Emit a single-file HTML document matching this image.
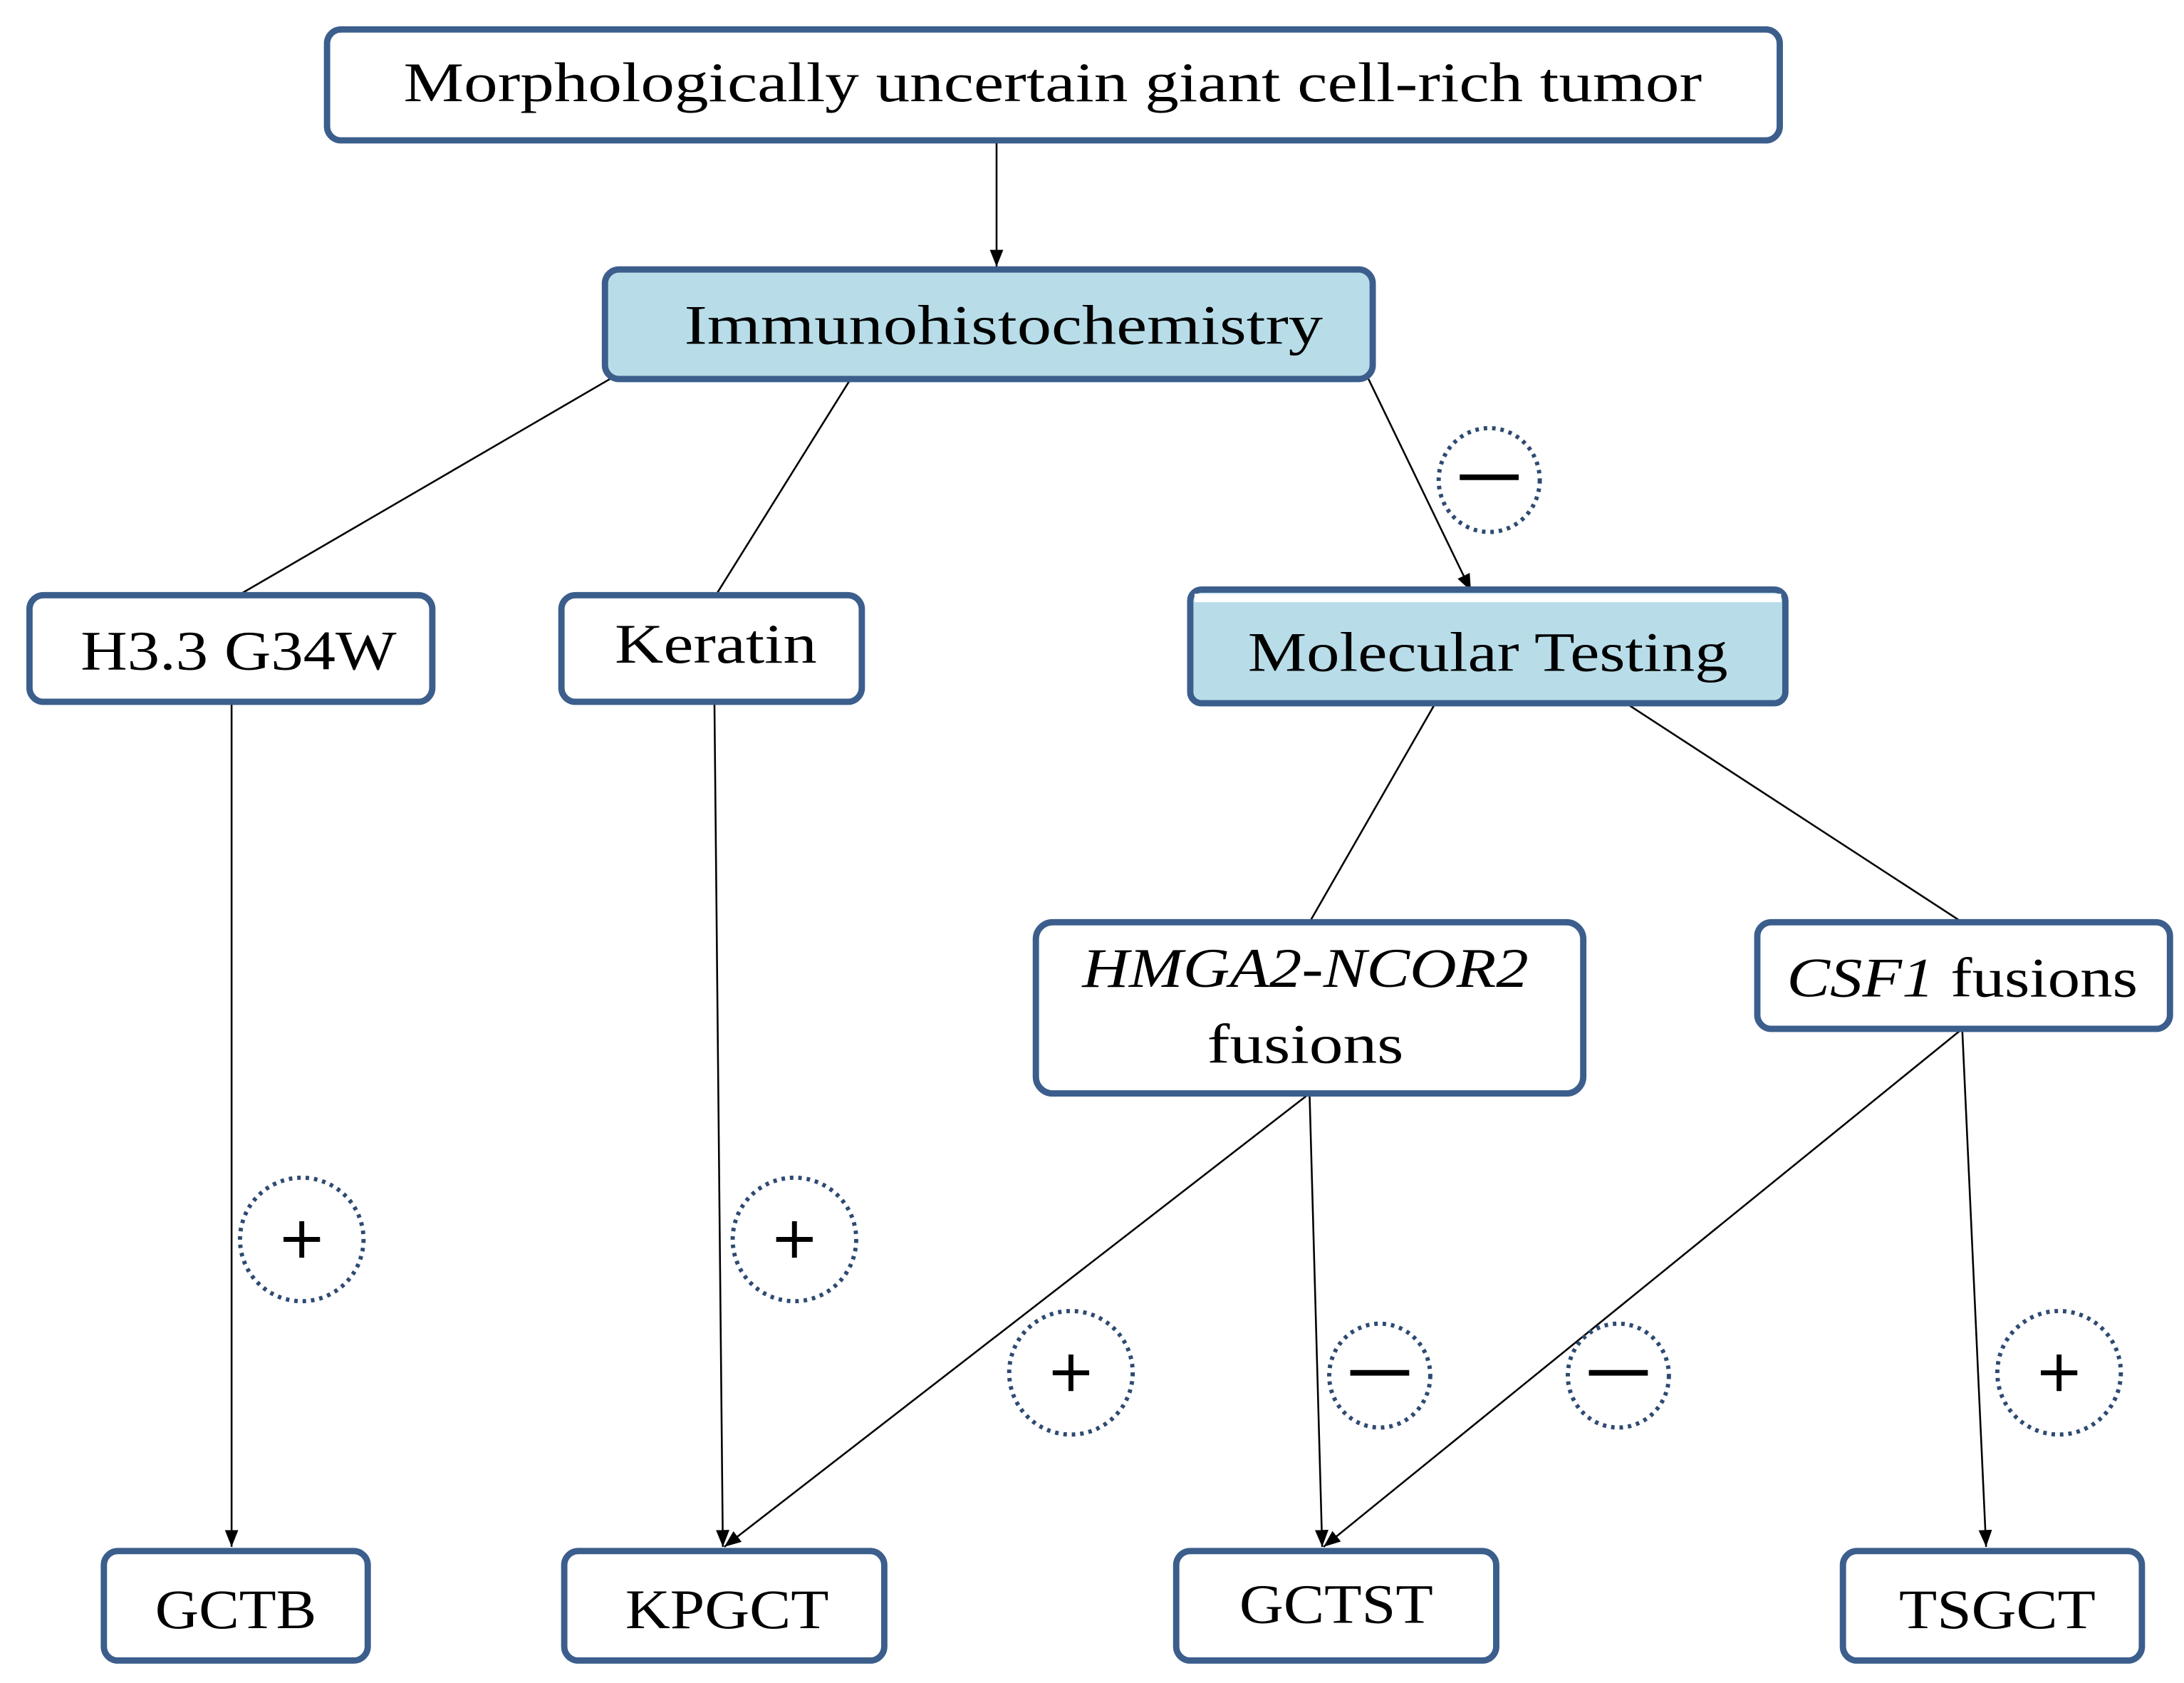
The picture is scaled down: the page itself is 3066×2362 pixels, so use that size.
<!DOCTYPE html>
<html><head><meta charset="utf-8"><style>
html,body{margin:0;padding:0;background:#fff;}
svg{display:block;}
text{font-family:"Liberation Serif",serif;fill:#000;}
</style></head><body>
<svg width="3066" height="2362" viewBox="0 0 1556 1199" preserveAspectRatio="none" xmlns="http://www.w3.org/2000/svg">
<defs>
<marker id="a" viewBox="0 0 10 10" refX="10" refY="5" markerWidth="12" markerHeight="12" orient="auto" markerUnits="userSpaceOnUse"><path d="M0,1 L10,5 L0,9 z" fill="#000"/></marker>
</defs>
<g stroke="#000" stroke-width="1.3" fill="none">
<line x1="710" y1="100" x2="710" y2="190" marker-end="url(#a)"/>
<line x1="438" y1="268" x2="170" y2="424"/>
<line x1="606" y1="270" x2="510" y2="424"/>
<line x1="975" y1="270" x2="1048" y2="421" marker-end="url(#a)"/>
<line x1="1022" y1="502" x2="933" y2="657"/>
<line x1="1160" y1="502" x2="1398" y2="657"/>
<line x1="165" y1="500" x2="165" y2="1102" marker-end="url(#a)"/>
<line x1="509" y1="500" x2="515" y2="1102" marker-end="url(#a)"/>
<line x1="933" y1="779" x2="516" y2="1102" marker-end="url(#a)"/>
<line x1="933" y1="779" x2="942" y2="1102" marker-end="url(#a)"/>
<line x1="1398" y1="733" x2="943" y2="1102" marker-end="url(#a)"/>
<line x1="1398" y1="733" x2="1415" y2="1102" marker-end="url(#a)"/>
</g>
<g stroke="#3b5e8c" stroke-width="4.5">
<rect x="233" y="21" width="1035" height="79" rx="10" fill="#fff"/>
<rect x="431" y="192" width="547" height="78" rx="10" fill="#b8dde8"/>
<rect x="21" y="424" width="287" height="76" rx="10" fill="#fff"/>
<rect x="400" y="424" width="214" height="76" rx="10" fill="#fff"/>
<rect x="848" y="420" width="424" height="81" rx="8" fill="#b8dde8"/>
<rect x="738" y="657" width="390" height="122" rx="12" fill="#fff"/>
<rect x="1252" y="657" width="294" height="76" rx="10" fill="#fff"/>
<rect x="74" y="1105" width="188" height="78" rx="10" fill="#fff"/>
<rect x="402" y="1105" width="228" height="78" rx="10" fill="#fff"/>
<rect x="838" y="1105" width="228" height="78" rx="10" fill="#fff"/>
<rect x="1313" y="1105" width="213" height="78" rx="10" fill="#fff"/>
</g>
<rect x="851" y="423" width="418" height="6" fill="#fff"/>
<g font-size="40" text-anchor="middle">
<text x="750" y="72" textLength="925" lengthAdjust="spacingAndGlyphs">Morphologically uncertain giant cell-rich tumor</text>
<text x="715" y="245" textLength="455" lengthAdjust="spacingAndGlyphs">Immunohistochemistry</text>
<text x="170" y="477" textLength="225" lengthAdjust="spacingAndGlyphs">H3.3 G34W</text>
<text x="510" y="472" textLength="144" lengthAdjust="spacingAndGlyphs">Keratin</text>
<text x="1060" y="478" textLength="342" lengthAdjust="spacingAndGlyphs">Molecular Testing</text>
<text x="930" y="703" font-style="italic" textLength="318" lengthAdjust="spacingAndGlyphs">HMGA2-NCOR2</text>
<text x="930" y="757" textLength="140" lengthAdjust="spacingAndGlyphs">fusions</text>
<text x="1398" y="710" textLength="250" lengthAdjust="spacingAndGlyphs"><tspan font-style="italic">CSF1</tspan> fusions</text>
<text x="168" y="1160" textLength="115" lengthAdjust="spacingAndGlyphs">GCTB</text>
<text x="518" y="1160" textLength="145" lengthAdjust="spacingAndGlyphs">KPGCT</text>
<text x="952" y="1156" textLength="138" lengthAdjust="spacingAndGlyphs">GCTST</text>
<text x="1423" y="1160" textLength="140" lengthAdjust="spacingAndGlyphs">TSGCT</text>
</g>
<g fill="none" stroke="#2e4a72" stroke-width="3" stroke-dasharray="2.5 3.5">
<ellipse cx="1061" cy="342" rx="36" ry="37"/>
<ellipse cx="215" cy="883" rx="44" ry="44"/>
<ellipse cx="566" cy="883" rx="44" ry="44"/>
<ellipse cx="763" cy="978" rx="44" ry="44"/>
<ellipse cx="983" cy="980" rx="36" ry="37"/>
<ellipse cx="1153" cy="980" rx="36" ry="37"/>
<ellipse cx="1467" cy="978" rx="44" ry="44"/>
</g>
<g stroke="#000" stroke-width="4">
<line x1="1040" y1="340" x2="1082" y2="340"/>
<line x1="962" y1="978" x2="1004" y2="978"/>
<line x1="1132" y1="978" x2="1174" y2="978"/>
<g stroke-width="3.5">
<line x1="202" y1="883" x2="228" y2="883"/><line x1="215" y1="870" x2="215" y2="896"/>
<line x1="553" y1="883" x2="579" y2="883"/><line x1="566" y1="870" x2="566" y2="896"/>
<line x1="750" y1="978" x2="776" y2="978"/><line x1="763" y1="965" x2="763" y2="991"/>
<line x1="1454" y1="978" x2="1480" y2="978"/><line x1="1467" y1="965" x2="1467" y2="991"/>
</g>
</g>
</svg>
</body></html>
